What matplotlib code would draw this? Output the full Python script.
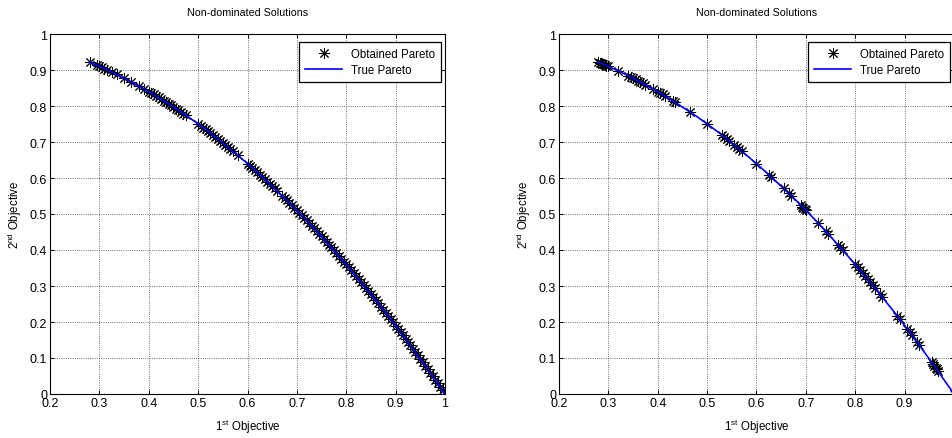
import matplotlib
matplotlib.use("Agg")
import matplotlib.pyplot as plt

plt.rcParams['font.family'] = ['Liberation Sans', 'DejaVu Sans']
plt.rcParams['mathtext.fontset'] = 'custom'
plt.rcParams['mathtext.rm'] = 'Liberation Sans'
plt.rcParams['mathtext.it'] = 'Liberation Sans'

# True Pareto front
true_x = [0.28, 0.32, 0.36, 0.40, 0.44, 0.48, 0.52, 0.56, 0.60, 0.64,
          0.68, 0.72, 0.76, 0.80, 0.84, 0.88, 0.92, 0.96, 1.00]
true_y = [0.922, 0.898, 0.870, 0.840, 0.806, 0.770, 0.730, 0.686, 0.640, 0.590,
          0.538, 0.482, 0.422, 0.360, 0.294, 0.226, 0.154, 0.078, 0.000]

# Left panel obtained solutions
left_x = [0.280, 0.295, 0.300, 0.305, 0.310, 0.315, 0.325, 0.335, 0.350, 0.365,
          0.380, 0.390, 0.400, 0.405, 0.410, 0.415, 0.420, 0.425, 0.430, 0.435,
          0.440, 0.445, 0.450, 0.455, 0.460, 0.465, 0.470, 0.475, 0.500, 0.505,
          0.510, 0.515, 0.520, 0.525, 0.530, 0.535, 0.540, 0.545, 0.550, 0.555,
          0.560, 0.565, 0.570, 0.580, 0.600, 0.605, 0.610, 0.615, 0.620, 0.625,
          0.630, 0.635, 0.640, 0.645, 0.650, 0.655, 0.660, 0.670, 0.675, 0.680,
          0.685, 0.690, 0.695, 0.700, 0.705, 0.710, 0.715, 0.720, 0.725, 0.730,
          0.735, 0.740, 0.745, 0.750, 0.755, 0.760, 0.765, 0.770, 0.775, 0.780,
          0.785, 0.790, 0.795, 0.800, 0.805, 0.810, 0.815, 0.820, 0.825, 0.830,
          0.835, 0.840, 0.845, 0.850, 0.855, 0.860, 0.865, 0.870, 0.875, 0.880,
          0.885, 0.890, 0.895, 0.900, 0.905, 0.910, 0.915, 0.920, 0.925, 0.930,
          0.935, 0.940, 0.945, 0.950, 0.955, 0.960, 0.965, 0.970, 0.975, 0.980,
          0.985, 0.990, 0.995, 1.000]
left_y = [0.922, 0.913, 0.910, 0.907, 0.904, 0.901, 0.894, 0.888, 0.878, 0.867,
          0.856, 0.848, 0.840, 0.836, 0.832, 0.828, 0.824, 0.819, 0.815, 0.811,
          0.806, 0.802, 0.798, 0.793, 0.788, 0.784, 0.779, 0.774, 0.750, 0.745,
          0.740, 0.735, 0.730, 0.724, 0.719, 0.714, 0.708, 0.703, 0.698, 0.692,
          0.686, 0.681, 0.675, 0.664, 0.640, 0.634, 0.628, 0.622, 0.616, 0.609,
          0.603, 0.597, 0.590, 0.584, 0.578, 0.571, 0.564, 0.551, 0.544, 0.538,
          0.531, 0.524, 0.517, 0.510, 0.503, 0.496, 0.489, 0.482, 0.474, 0.467,
          0.460, 0.452, 0.445, 0.438, 0.430, 0.422, 0.415, 0.407, 0.399, 0.392,
          0.384, 0.376, 0.368, 0.360, 0.352, 0.344, 0.336, 0.328, 0.319, 0.311,
          0.303, 0.294, 0.286, 0.278, 0.269, 0.260, 0.252, 0.243, 0.234, 0.226,
          0.217, 0.208, 0.199, 0.190, 0.181, 0.172, 0.163, 0.154, 0.144, 0.135,
          0.126, 0.116, 0.107, 0.098, 0.088, 0.078, 0.069, 0.059, 0.049, 0.040,
          0.030, 0.020, 0.010, 0.000]

# Right panel obtained solutions
right_x = [0.280, 0.283, 0.285, 0.288, 0.290, 0.293, 0.296, 0.300, 0.320, 0.340,
           0.345, 0.350, 0.355, 0.360, 0.365, 0.370, 0.375, 0.390, 0.400, 0.405,
           0.410, 0.415, 0.430, 0.435, 0.465, 0.500, 0.530, 0.535, 0.540, 0.545,
           0.555, 0.560, 0.565, 0.570, 0.600, 0.625, 0.630, 0.655, 0.665, 0.670,
           0.690, 0.693, 0.695, 0.698, 0.700, 0.725, 0.740, 0.745, 0.765, 0.770,
           0.775, 0.800, 0.805, 0.810, 0.815, 0.820, 0.825, 0.830, 0.835, 0.840,
           0.850, 0.855, 0.885, 0.890, 0.905, 0.910, 0.915, 0.925, 0.930, 0.955,
           0.958, 0.960, 0.963, 0.965, 0.968, 1.000]
right_y = [0.922, 0.920, 0.919, 0.917, 0.916, 0.914, 0.912, 0.910, 0.898, 0.884,
           0.881, 0.878, 0.874, 0.870, 0.867, 0.863, 0.859, 0.848, 0.840, 0.836,
           0.832, 0.828, 0.815, 0.811, 0.784, 0.750, 0.719, 0.714, 0.708, 0.703,
           0.692, 0.686, 0.681, 0.675, 0.640, 0.609, 0.603, 0.571, 0.558, 0.551,
           0.524, 0.520, 0.517, 0.513, 0.510, 0.474, 0.452, 0.445, 0.415, 0.407,
           0.399, 0.360, 0.352, 0.344, 0.336, 0.328, 0.319, 0.311, 0.303, 0.294,
           0.278, 0.269, 0.217, 0.208, 0.181, 0.172, 0.163, 0.144, 0.135, 0.088,
           0.082, 0.078, 0.073, 0.069, 0.063, 0.000]

xticks = [0.2, 0.3, 0.4, 0.5, 0.6, 0.7, 0.8, 0.9, 1.0]
xticklabels = ['0.2', '0.3', '0.4', '0.5', '0.6', '0.7', '0.8', '0.9', '1']
yticks = [0.0, 0.1, 0.2, 0.3, 0.4, 0.5, 0.6, 0.7, 0.8, 0.9, 1.0]
yticklabels = ['0', '0.1', '0.2', '0.3', '0.4', '0.5', '0.6', '0.7', '0.8', '0.9', '1']

W, H = 953, 439
fig = plt.figure(figsize=(W / 100, H / 100), dpi=100)

asterisk = (8, 2, 0)

panels = [(50, left_x, left_y), (559, right_x, right_y)]
for left_px, ox, oy in panels:
    ax = fig.add_axes([left_px / W, (H - 395) / H, 395 / W, 360 / H])
    ax.plot(true_x, true_y, color='#0000ff', lw=1.2, label='True Pareto', zorder=4)
    ax.plot(ox, oy, linestyle='none', marker=asterisk, color='black', markersize=8,
            markeredgewidth=0.7, label='Obtained Pareto', zorder=3)
    ax.set_xlim(0.2, 1.0)
    ax.set_ylim(0.0, 1.0)
    ax.set_xticks(xticks)
    ax.set_xticklabels(xticklabels)
    ax.set_yticks(yticks)
    ax.set_yticklabels(yticklabels)
    ax.tick_params(direction='in', length=3, width=0.7, labelsize=9,
                   top=True, right=True, colors='black', pad=2)
    ax.grid(True, color='#444444', linestyle=':', linewidth=0.6)
    for s in ax.spines.values():
        s.set_linewidth(0.8)
    ax.set_title('Non-dominated Solutions', fontsize=7.7, pad=14)
    ax.set_xlabel('1$^{\\rm st}$ Objective', fontsize=8.3, labelpad=6)
    ax.set_ylabel('2$^{\\rm nd}$ Objective', fontsize=8.3, labelpad=4)
    handles, labels = ax.get_legend_handles_labels()
    leg = ax.legend([handles[1], handles[0]], [labels[1], labels[0]],
                    loc='upper right', bbox_to_anchor=(0.99, 0.978),
                    fontsize=8.3, fancybox=False, framealpha=1, edgecolor='black',
                    borderpad=0.5, handlelength=3.2, labelspacing=0.4,
                    borderaxespad=0)
    leg.get_frame().set_linewidth(0.9)

fig.savefig('out.png', dpi=100)
